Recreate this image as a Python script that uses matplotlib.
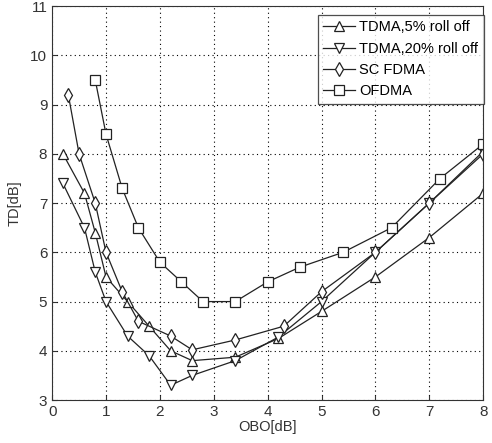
import matplotlib
matplotlib.use('Agg')
import matplotlib.pyplot as plt

plt.rcParams['font.family'] = ['Liberation Sans', 'DejaVu Sans']

# TDMA, 5% roll off
tdma5_x = [0.2, 0.6, 0.8, 1.0, 1.4, 1.8, 2.2, 2.6, 3.4, 4.2, 5.0, 6.0, 7.0, 8.0]
tdma5_y = [8.0, 7.2, 6.4, 5.5, 5.0, 4.5, 4.0, 3.8, 3.87, 4.25, 4.8, 5.5, 6.3, 7.2]

# TDMA, 20% roll off
tdma20_x = [0.2, 0.6, 0.8, 1.0, 1.4, 1.8, 2.2, 2.6, 3.4, 4.2, 5.0, 6.0, 7.0, 8.0]
tdma20_y = [7.4, 6.5, 5.6, 5.0, 4.3, 3.9, 3.3, 3.5, 3.8, 4.28, 5.0, 6.0, 7.0, 8.05]

# SC FDMA
scfdma_x = [0.3, 0.5, 0.8, 1.0, 1.3, 1.6, 2.2, 2.6, 3.4, 4.3, 5.0, 6.0, 7.0, 8.0]
scfdma_y = [9.2, 8.0, 7.0, 6.0, 5.2, 4.6, 4.3, 4.02, 4.22, 4.5, 5.2, 6.0, 7.0, 8.0]

# OFDMA
ofdma_x = [0.8, 1.0, 1.3, 1.6, 2.0, 2.4, 2.8, 3.4, 4.0, 4.6, 5.4, 6.3, 7.2, 8.0]
ofdma_y = [9.5, 8.4, 7.3, 6.5, 5.8, 5.4, 5.0, 5.0, 5.4, 5.7, 6.0, 6.5, 7.5, 8.2]

labels = ['TDMA,5% roll off', 'TDMA,20% roll off', 'SC FDMA', 'OFDMA']

fig = plt.figure(figsize=(4.92, 4.43), dpi=100)
ax = fig.add_axes([0.106, 0.097, 0.876, 0.889])

style = dict(color='#222222', linewidth=0.9, markersize=7.5, markerfacecolor='white',
             markeredgecolor='#222222', markeredgewidth=0.9)
ax.plot(tdma5_x, tdma5_y, marker='^', label=labels[0], **style)
ax.plot(tdma20_x, tdma20_y, marker='v', label=labels[1], **style)
ax.plot(scfdma_x, scfdma_y, marker='d', label=labels[2], **style)
ax.plot(ofdma_x, ofdma_y, marker='s', label=labels[3], **style)

ax.set_xlim(0, 8)
ax.set_ylim(3, 11)
ax.set_xticks(range(0, 9))
ax.set_yticks(range(3, 12))
ax.grid(True, linestyle=(0, (1, 3)), color='black', linewidth=0.8)
ax.tick_params(direction='in', labelsize=11, colors='#333333')
for s in ax.spines.values():
    s.set_color('#333333')

ax.set_xlabel('OBO[dB]', fontsize=10.5, color='#333333', labelpad=1)
ax.set_ylabel('TD[dB]', fontsize=10.5, color='#333333', labelpad=6)

leg = ax.legend(loc='upper right', bbox_to_anchor=(1.012, 0.99), fontsize=10.5,
                frameon=True, fancybox=False, edgecolor='#222222',
                handlelength=2.2, borderpad=0.4, labelspacing=0.5, handletextpad=0.25,
                borderaxespad=0.3)
leg.get_frame().set_linewidth(0.9)

fig.savefig('out.png', dpi=100)
